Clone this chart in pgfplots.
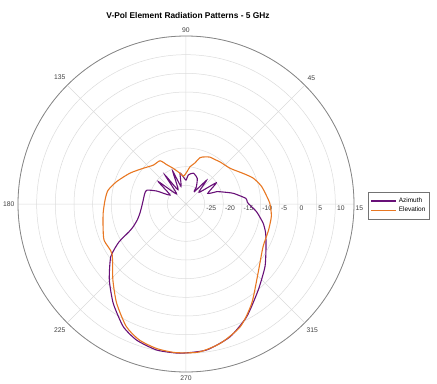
\documentclass[border=0pt]{standalone}
\usepackage{pgfplots}
\pgfplotsset{compat=1.18}
\usepgfplotslibrary{polar}
\usepackage{fontspec}
\setmainfont{Liberation Sans}
\definecolor{azi}{RGB}{104,16,120}
\definecolor{ele}{RGB}{232,119,34}
\begin{document}
\begin{tikzpicture}
\useasboundingbox (-186bp,-180bp) rectangle (251bp,204bp);
\begin{polaraxis}[
  at={(0,0)}, anchor=center,
  scale only axis, width=336bp, height=336bp,
  ymin=0, ymax=45,
  ytick={5,10,...,45},
  yticklabels={-25,-20,-15,-10,-5,0,5,10,15},
  xtick={0,45,...,315},
  xticklabels={,45,90,135,180,225,270,315},
  grid=both,
  major grid style={gray!28, line width=0.5pt},
  x axis line style={gray!95, line width=0.8pt},
  y axis line style={draw=none},
  tick style={draw=none},
  ticklabel style={font=\fontsize{6.8}{8}\selectfont, text=black!75},
  yticklabel style={anchor=north west, inner sep=1pt, xshift=0.5bp, yshift=-0.5bp},
  /pgf/number format/assume math mode=true,
  legend style={at={(1.042,0.536)}, anchor=north west, font=\fontsize{6.5}{7.5}\selectfont, draw=gray!90!black, inner xsep=2pt, inner ysep=4pt, row sep=-1pt},
  legend image code/.code={\draw[#1] (0bp,0bp) -- (25bp,0bp);},
  legend image post style={line width=1.5pt},
  legend cell align=left,
]
\addplot[azi, line width=1.1pt, smooth, tension=0.35] table[x=a, y expr=\thisrow{d}+30] {
a d
0 -13.2
2 -13.6
5.4 -13.9
12.7 -17
18 -19.6
21.8 -21.1
26 -23.5
35 -20.1
42 -25.3
49 -21.6
56 -26
59 -24.6
66.3 -22.5
76.6 -21.5
85.4 -22.2
90 -23.6
96 -22.6
101 -21.6
106 -25.1
112 -20.5
119 -25.6
126 -20.4
133 -26.3
141 -20.5
150.6 -25.1
156 -21.5
160.4 -18.9
165.4 -18.6
174.6 -18.5
183.5 -18.1
191.4 -17.4
198 -16.3
203.3 -14.6
206 -13.0
209.6 -9.3
215 -5.4
224.7 -1.1
233.8 3.0
242.9 6.9
250.1 8.8
258.7 9.9
267.7 10.0
278 9.5
288.3 7.5
298.3 4.3
310 0.1
321.6 -3.0
331.9 -5.7
340 -7.3
346 -8.7
353.8 -11
360 -13.2
};
\addlegendentry{Azimuth}
\addplot[ele, line width=1.1pt, smooth, tension=0.4] table[x=a, y expr=\thisrow{d}+30] {
a d
0 -7.5
3 -7.9
13 -9.2
21 -10.7
28 -12.6
39 -14.8
51 -15.5
57 -15.8
63 -15.9
68 -16.4
73 -17
78 -18.8
84 -20
88 -21.3
95 -22.5
101 -21.6
110 -19.8
116 -18.3
121 -16.5
130 -16.4
140 -15.1
151 -12.9
162 -10.5
170 -8.8
177 -8.3
186 -7.7
195 -7.0
204 -6.0
214 -6.1
226 -1.8
235 2.4
244 6.5
251 8.5
258.5 9.5
266 9.9
275 9.8
284 8.4
294 5.9
303.5 1.9
316 -3.2
331 -6.4
342 -6.8
352 -6.9
360 -7.5
};
\addlegendentry{Elevation}
\end{polaraxis}
\node[font=\bfseries\fontsize{8.4}{10}\selectfont] at (2bp,188bp) {V-Pol Element Radiation Patterns - 5 GHz};
\end{tikzpicture}
\end{document}
